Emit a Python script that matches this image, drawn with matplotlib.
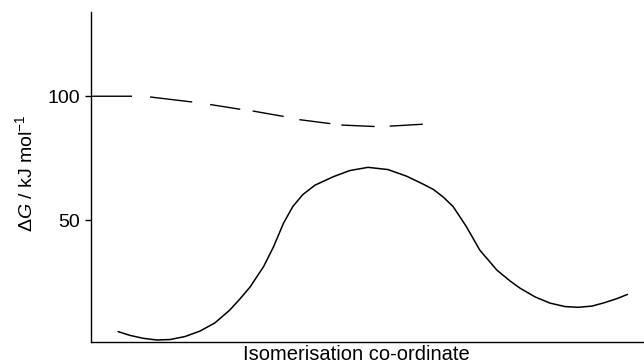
import matplotlib
matplotlib.use("Agg")
import matplotlib.pyplot as plt

# Solid curve: isomerisation coordinate (% of axis length) vs ΔG (kJ/mol)
solid_x = [4.9, 7.0, 9.4, 11.9, 14.3, 17.0, 19.7, 22.4, 25.1, 26.9, 28.8, 31.2,
           33.0, 34.8, 36.5, 38.3, 40.5, 43.8, 46.8, 50.1, 53.7, 57.1, 59.9, 61.9,
           63.7, 65.5, 67.9, 70.3, 73.4, 75.8, 77.6, 80.3, 83.0, 85.7, 88.1, 90.6,
           92.9, 95.1, 97.0]
solid_y = [5.0, 3.5, 2.3, 1.6, 1.8, 3.0, 5.2, 8.5, 13.7, 18.1, 23.1, 31.2,
           39.2, 48.7, 55.5, 60.3, 64.1, 67.5, 70.0, 71.3, 70.4, 67.7, 64.7, 62.4,
           59.3, 55.4, 47.3, 37.9, 29.8, 25.4, 22.5, 19.0, 16.5, 15.1, 14.8, 15.3,
           16.7, 18.3, 20.0]

# Dashed curve
dash_x = [0.0, 7.4, 10.7, 18.2, 21.4, 26.8, 29.1, 34.7, 37.5, 43.1, 45.0, 51.0, 53.8, 60.0]
dash_y = [100.0, 100.0, 99.7, 97.7, 96.7, 94.8, 94.1, 91.9, 90.6, 89.0, 88.4, 87.8, 87.9, 88.7]

y_ticks = [50, 100]
y_tick_labels = ["50", "100"]

plt.rcParams['font.family'] = ['Liberation Sans', 'DejaVu Sans']
plt.rcParams['mathtext.fontset'] = 'custom'
plt.rcParams['mathtext.rm'] = 'Liberation Sans'
plt.rcParams['mathtext.it'] = 'Liberation Sans:italic'

fig = plt.figure(figsize=(6.44, 3.64), dpi=100)
ax = fig.add_axes([91/644, 1 - 341.5/364, 1 - 91/644, (341.5 - 12)/364])

ax.plot(solid_x, solid_y, color='black', lw=1.1, solid_joinstyle='round', solid_capstyle='round')
ln, = ax.plot(dash_x, dash_y, color='black', lw=1.0)
ln.set_dashes([29.5, 13, 30.6, 13, 22, 9, 22.7, 11.5, 22.5, 8, 24, 10.8, 25])

ax.set_xlim(0, 100)
ax.set_ylim(1, 134)
ax.set_yticks(y_ticks)
ax.set_yticklabels(y_tick_labels, fontsize=14)
ax.set_xticks([])
for s in ['top', 'right']:
    ax.spines[s].set_visible(False)
for s in ['left', 'bottom']:
    ax.spines[s].set_linewidth(1.0)
ax.tick_params(axis='y', length=4, width=1.0, pad=4)

fig.text(356.5/644, 1 - 359.5/364, "Isomerisation co-ordinate", ha='center', va='baseline', fontsize=14.5)
fig.text(25/644, 1 - 173/364, r"$\Delta G$ / kJ mol$^{-1}$", rotation=90,
         ha='center', va='center', fontsize=14)

fig.savefig("out.png", dpi=100)
